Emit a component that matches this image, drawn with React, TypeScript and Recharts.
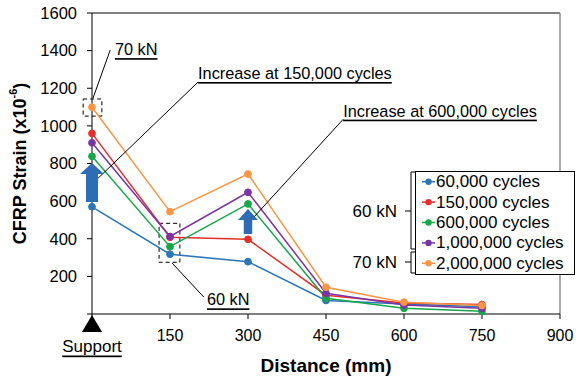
import {
  Legend,
  Line,
  LineChart,
  ReferenceArea,
  ReferenceDot,
  ReferenceLine,
  XAxis,
  YAxis,
} from "recharts";

const distances = [0, 150, 300, 450, 600, 750];
const cycles60k = [570, 318, 278, 72, 53, 38];
const cycles150k = [960, 408, 397, 100, 58, 50];
const cycles600k = [838, 358, 585, 84, 30, 14];
const cycles1m = [910, 412, 647, 110, 48, 30];
const cycles2m = [1099, 544, 744, 142, 63, 45];

const xTicks = [0, 150, 300, 450, 600, 750, 900];
const yTicks = [0, 200, 400, 600, 800, 1000, 1200, 1400, 1600];

const series = [
  { key: "c60k", name: "60,000 cycles", color: "#2E75B6", values: cycles60k },
  { key: "c150k", name: "150,000 cycles", color: "#E3302A", values: cycles150k },
  { key: "c600k", name: "600,000 cycles", color: "#17A74A", values: cycles600k },
  { key: "c1m", name: "1,000,000 cycles", color: "#7A34A3", values: cycles1m },
  { key: "c2m", name: "2,000,000 cycles", color: "#F79646", values: cycles2m },
];

// annotation anchors, in data units
const notes = [
  { x: 44, y: 1408, text: "70 kN" },
  { x: 204, y: 1281, text: "Increase at 150,000 cycles" },
  { x: 483, y: 1081, text: "Increase at 600,000 cycles" },
  { x: 221, y: 78, text: "60 kN" },
];
const leaders = [
  [{ x: 35, y: 1403 }, { x: 2, y: 1148 }],
  [{ x: 204, y: 1233 }, { x: 2, y: 696 }],
  [{ x: 483, y: 1035 }, { x: 308, y: 505 }],
  [{ x: 154, y: 271 }, { x: 215, y: 90 }],
];

const FONT = 'Arial, "Liberation Sans", sans-serif';
const ARROW_BLUE = "#2E6DB4";

const chartData = distances.map((d, i) => {
  const row: Record<string, number> = { distance: d };
  series.forEach((s) => (row[s.key] = s.values[i]));
  return row;
});

const noteShape = (text: string) => (props: any) => (
  <text
    x={props.cx}
    y={props.cy}
    fontSize={16.3}
    fill="#000"
    dominantBaseline="central"
    style={{ textDecoration: "underline" }}
  >
    {text}
  </text>
);

const blockArrow =
  (headW: number, shaftW: number, headH: number, totalH: number) => (props: any) => {
    const { cx, cy } = props;
    const pts = [
      [cx, cy],
      [cx + headW / 2, cy + headH],
      [cx + shaftW / 2, cy + headH],
      [cx + shaftW / 2, cy + totalH],
      [cx - shaftW / 2, cy + totalH],
      [cx - shaftW / 2, cy + headH],
      [cx - headW / 2, cy + headH],
    ]
      .map((p) => p.join(","))
      .join(" ");
    return <polygon points={pts} fill={ARROW_BLUE} />;
  };

const supportShape = (props: any) => {
  const { cx, cy } = props;
  return (
    <g>
      <polygon points={`${cx},${cy + 1} ${cx - 10},${cy + 18} ${cx + 10},${cy + 18}`} fill="#000" />
      <text
        x={cx}
        y={cy + 32}
        fontSize={17}
        textAnchor="middle"
        dominantBaseline="central"
        fill="#000"
        style={{ textDecoration: "underline" }}
      >
        Support
      </text>
    </g>
  );
};

function LegendBox() {
  return (
    <svg width={240} height={115} style={{ display: "block", overflow: "visible", fontFamily: FONT }}>
      <g stroke="#000" strokeWidth={1} fill="none">
        <polyline points="75,7 71,7 71,84 75,84" />
        <line x1={65} x2={71} y1={46} y2={46} />
        <polyline points="75,87 71,87 71,108 75,108" />
        <line x1={65} x2={71} y1={97} y2={97} />
      </g>
      <text x={57} y={46} fontSize={17} textAnchor="end" dominantBaseline="central">
        60 kN
      </text>
      <text x={57} y={97} fontSize={17} textAnchor="end" dominantBaseline="central">
        70 kN
      </text>
      <rect x={75.5} y={6.5} width={159} height={103} fill="#fff" stroke="#000" />
      {series.map((s, i) => {
        const y = 16.7 + i * 20.4;
        return (
          <g key={s.key}>
            <line x1={82} x2={95} y1={y} y2={y} stroke={s.color} strokeWidth={1.5} />
            <circle cx={88.5} cy={y} r={3.2} fill={s.color} />
            <text x={96} y={y} fontSize={17} dominantBaseline="central" fill="#000">
              {s.name}
            </text>
          </g>
        );
      })}
    </svg>
  );
}

const yTitle = (props: any) => {
  const vb = props.viewBox;
  const cx = vb.x + 20;
  const cy = vb.y + vb.height / 2;
  return (
    <text
      x={cx}
      y={cy}
      transform={`rotate(-90, ${cx}, ${cy})`}
      textAnchor="middle"
      dominantBaseline="central"
      fontSize={18}
      fontWeight="bold"
      fill="#000"
    >
      CFRP Strain (x10
      <tspan dy={-7} fontSize={11}>
        -6
      </tspan>
      <tspan dy={7}>)</tspan>
    </text>
  );
};

const xTitle = (props: any) => {
  const vb = props.viewBox;
  return (
    <text
      x={vb.x + vb.width / 2}
      y={365}
      textAnchor="middle"
      dominantBaseline="central"
      fontSize={19}
      fontWeight="bold"
      fill="#000"
    >
      Distance (mm)
    </text>
  );
};

export default function App() {
  return (
    <div style={{ position: "absolute", left: 0, top: 0 }}>
      <LineChart
        width={582}
        height={379}
        data={chartData}
        margin={{ top: 13, right: 22, bottom: 0, left: 0 }}
        style={{ fontFamily: FONT }}
      >
        <XAxis
          type="number"
          dataKey="distance"
          domain={[0, 900]}
          ticks={xTicks}
          tickFormatter={(v) => (v === 0 ? "" : String(v))}
          tick={{ fontSize: 16, fill: "#000" }}
          stroke="#000"
          tickSize={5}
          tickMargin={11}
          height={65}
          label={xTitle}
        />
        <YAxis
          type="number"
          domain={[0, 1600]}
          ticks={yTicks}
          tickFormatter={(v) => (v === 0 ? "" : String(v))}
          tick={{ fontSize: 16.5, fill: "#000" }}
          stroke="#000"
          tickSize={5}
          tickMargin={10}
          width={92}
          label={yTitle}
        />
        <ReferenceLine y={1600} stroke="#000" strokeWidth={1} />
        <ReferenceLine x={900} stroke="#8c8c8c" strokeWidth={1.5} />
        <ReferenceArea
          x1={-17}
          x2={19}
          y1={1052}
          y2={1143}
          fill="none"
          fillOpacity={0}
          stroke="#000"
          strokeDasharray="4 3"
          ifOverflow="visible"
        />
        <ReferenceArea
          x1={129}
          x2={169}
          y1={275}
          y2={482}
          fill="none"
          fillOpacity={0}
          stroke="#000"
          strokeDasharray="4 3"
          ifOverflow="visible"
        />
        {series.map((s) => (
          <Line
            key={s.key}
            type="linear"
            dataKey={s.key}
            name={s.name}
            stroke={s.color}
            strokeWidth={1.5}
            dot={{ r: 3.4, fill: s.color, stroke: s.color, strokeWidth: 1 }}
            activeDot={false}
            isAnimationActive={false}
          />
        ))}
        <ReferenceDot x={0} y={803} r={1} shape={blockArrow(24, 12, 11, 39)} ifOverflow="visible" />
        <ReferenceDot x={300} y={558} r={1} shape={blockArrow(20, 8.5, 11, 25)} ifOverflow="visible" />
        {leaders.map((seg, i) => (
          <ReferenceLine
            key={`leader-${i}`}
            segment={seg}
            stroke="#000"
            strokeWidth={1}
            ifOverflow="visible"
          />
        ))}
        {notes.map((n) => (
          <ReferenceDot key={n.text} x={n.x} y={n.y} r={1} shape={noteShape(n.text)} ifOverflow="visible" />
        ))}
        <ReferenceDot x={0} y={0} r={1} shape={supportShape} ifOverflow="visible" />
        <Legend
          layout="vertical"
          align="center"
          verticalAlign="middle"
          content={LegendBox}
          wrapperStyle={{ left: 340, top: 165, width: 240, height: 115 }}
        />
      </LineChart>
    </div>
  );
}
